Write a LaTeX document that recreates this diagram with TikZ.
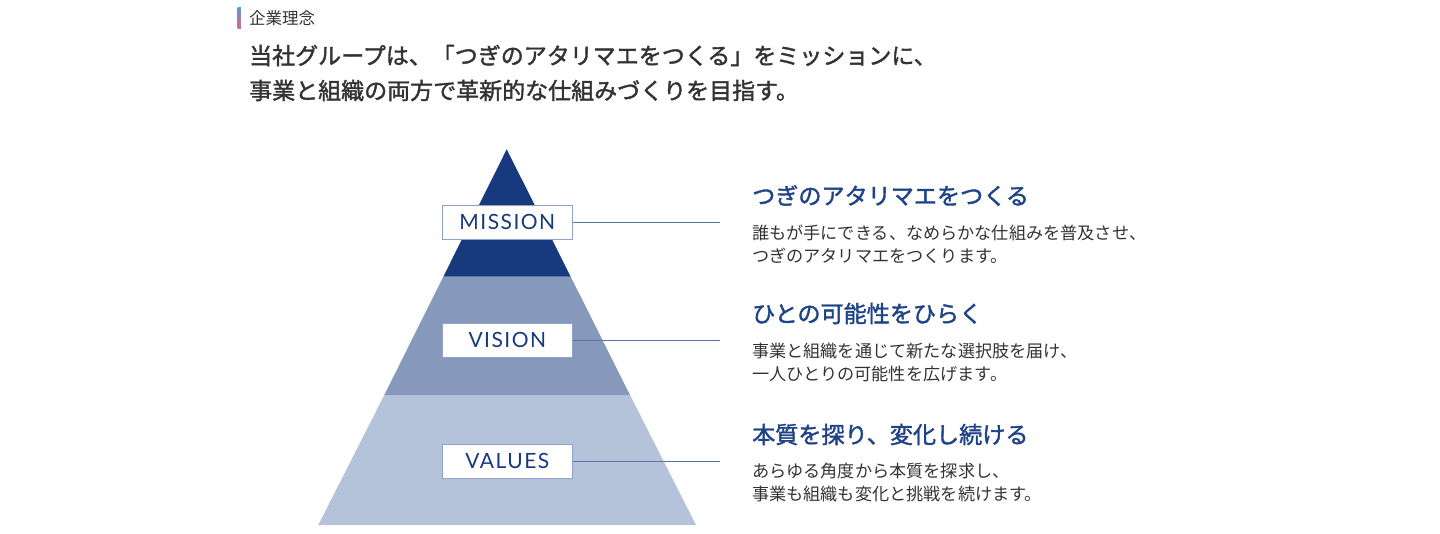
\documentclass[tikz,border=0pt]{standalone}
\usepackage{fontspec}
\setmainfont{Noto Sans CJK JP}
\newfontfamily\jpfont{Noto Sans CJK JP}
\newfontfamily\jpmed[FakeBold=1.6]{Noto Sans CJK JP}
\newfontfamily\boxfont[LetterSpace=7]{Lato}
\definecolor{navy}{HTML}{173A7E}
\definecolor{midblue}{HTML}{8699BC}
\definecolor{lightblue}{HTML}{B4C3D9}
\definecolor{boxborder}{HTML}{8FA3C8}
\definecolor{linkcol}{HTML}{5A74A8}
\definecolor{headcol}{HTML}{1F4387}
\definecolor{bodycol}{HTML}{333333}
\definecolor{barblue}{HTML}{5C9AD6}
\definecolor{barpink}{HTML}{E2648C}
\tikzset{
  labelbox/.style={draw=boxborder, line width=1pt, fill=white, minimum width=130pt, minimum height=34pt, inner sep=0pt, text=navy, font=\boxfont\fontsize{21}{21}\selectfont},
  link/.style={draw=linkcol, line width=0.9pt},
  heading/.style={anchor=west, inner sep=0pt, text=headcol, font=\jpmed\fontsize{23.1}{26}\selectfont},
  bodytext/.style={anchor=west, inner sep=0pt, align=left, text=bodycol, font=\jpfont\fontsize{17.15}{22.7}\selectfont},
  titletext/.style={anchor=west, inner sep=0pt, text=bodycol, font=\jpmed\fontsize{23}{35}\selectfont}
}
\begin{document}
\begin{tikzpicture}[x=1pt,y=-1pt]
\useasboundingbox (0,0) rectangle (1440,533);
% header
\shade[top color=barblue, bottom color=barpink] (237.5,7.5) rectangle (240.8,28.3);
\node[anchor=west, inner sep=0pt, text=bodycol, font=\jpfont\fontsize{16.5}{18}\selectfont] (hdr) at (249,18) {企業理念};
% title
\node[titletext] (t1) at (249,55.5) {当社グループは、「つぎのアタリマエをつくる」をミッションに、};
\node[titletext] (t2) at (249,90.5) {事業と組織の両方で革新的な仕組みづくりを目指す。};
% pyramid
\fill[lightblue] (384.3,395) -- (630,395) -- (696,525) -- (318.3,525) -- cycle;
\fill[midblue] (443.3,276.7) -- (570.7,276.7) -- (630,395) -- (384.3,395) -- cycle;
\fill[navy] (506.7,149.3) -- (570.7,276.7) -- (443.3,276.7) -- cycle;
% boxes
\node[labelbox] (mission) at (507.3,222.2) {MISSION};
\node[labelbox] (vision) at (507.3,340) {VISION};
\node[labelbox] (values) at (507.3,461) {VALUES};
\coordinate (e1) at (720,222.2);
\coordinate (e2) at (720,340);
\coordinate (e3) at (720,461);
\draw[link] (mission.east) -- (e1);
\draw[link] (vision.east) -- (e2);
\draw[link] (values.east) -- (e3);
% texts
\node[heading] (h1) at (752,195.5) {つぎのアタリマエをつくる};
\node[bodytext] (b1) at (752,244.2) {誰もが手にできる、なめらかな仕組みを普及させ、\\つぎのアタリマエをつくります。};
\node[heading] (h2) at (752,313.5) {ひとの可能性をひらく};
\node[bodytext] (b2) at (752,362.5) {事業と組織を通じて新たな選択肢を届け、\\一人ひとりの可能性を広げます。};
\node[heading] (h3) at (752,434.5) {本質を探り、変化し続ける};
\node[bodytext] (b3) at (752,482.5) {あらゆる角度から本質を探求し、\\事業も組織も変化と挑戦を続けます。};
\end{tikzpicture}
\end{document}
